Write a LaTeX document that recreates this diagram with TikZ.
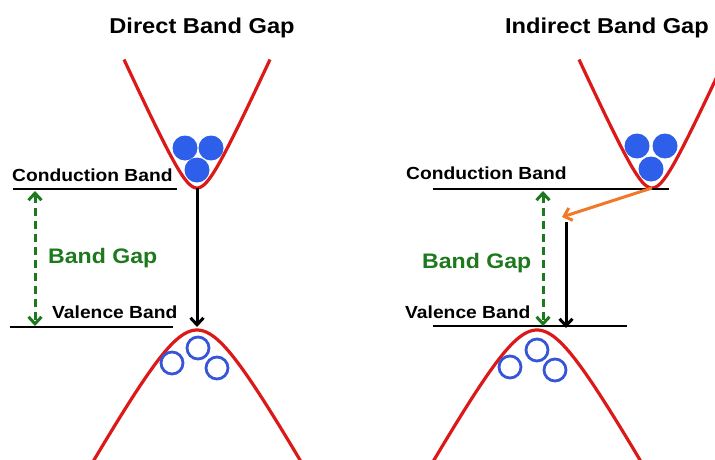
\documentclass[tikz,border=0pt]{standalone}
\usepackage{fontspec}
\setmainfont{Liberation Sans}[FakeStretch=1.1]
\usetikzlibrary{arrows.meta}
\definecolor{bandred}{RGB}{220,25,25}
\definecolor{eblue}{RGB}{45,95,235}
\definecolor{hblue}{RGB}{55,85,215}
\definecolor{gapgreen}{RGB}{30,120,30}
\definecolor{phonon}{RGB}{240,120,40}
\begin{document}
\begin{tikzpicture}[
    x=1pt, y=-1pt,
    title/.style={anchor=base, inner sep=0pt, font=\fontsize{21.5}{24}\selectfont\bfseries},
    label/.style={anchor=base west, inner sep=0pt, font=\fontsize{17.5}{20}\selectfont\bfseries},
    gaplabel/.style={anchor=base west, inner sep=0pt, text=gapgreen, font=\fontsize{21}{24}\selectfont\bfseries},
    band/.style={bandred, line width=3.2pt},
    level/.style={black, line width=1.8pt},
    electron/.style={fill=eblue},
    hole/.style={draw=hblue, line width=2.8pt},
    trans/.style={-{Straight Barb[length=7pt,width=13pt]}, line width=3pt},
    gap/.style={{Straight Barb[length=7pt,width=13pt]}-{Straight Barb[length=7pt,width=13pt]}, gapgreen, line width=3pt, dash pattern=on 8pt off 5pt},
]
    \clip (0,0) rectangle (715,460);

    % Titles
    \node[title] (tdirect) at (202,34) {Direct Band Gap};
    \node[title] (tindirect) at (607,34) {Indirect Band Gap};

    % Direct gap: bands
    \coordinate (cbvL) at (197,188);
    \coordinate (vbvL) at (197,330);
    \draw[band] plot[domain=-73:73, samples=80] ({197+\x},{188-35*(sqrt(1+(\x/16)^2)-1)});
    \draw[band] plot[domain=-110:110, samples=80] ({197+\x},{330+64*(sqrt(1+(\x/36)^2)-1)});

    % Direct gap: carriers
    \fill[electron] (185,148) circle (12.5);
    \fill[electron] (211,148) circle (12.5);
    \fill[electron] (197,170) circle (12.5);
    \draw[hole] (172,363) circle (11);
    \draw[hole] (198,348) circle (11);
    \draw[hole] (217,368) circle (11);

    % Direct gap: levels
    \coordinate (cbaL) at (13,189);
    \coordinate (cbbL) at (177,189);
    \coordinate (vbaL) at (10,327);
    \coordinate (vbbL) at (173,327);
    \draw[level] (cbaL) -- (cbbL);
    \draw[level] (vbaL) -- (vbbL);
    \node[label] (condL) at (12,181) {Conduction Band};
    \node[label] (valL) at (52,318) {Valence Band};
    \node[gaplabel] (gapL) at (48,263) {Band Gap};

    % Direct gap: arrows
    \coordinate (gtopL) at (35,191);
    \coordinate (gbotL) at (35,326);
    \draw[gap] (gtopL) -- (gbotL);
    \draw[trans, shorten >=3pt] (cbvL) -- (vbvL);

    % Indirect gap: bands
    \coordinate (cbvR) at (652,188);
    \coordinate (vbvR) at (537,330);
    \draw[band] plot[domain=-73:73, samples=80] ({652+\x},{188-35*(sqrt(1+(\x/16)^2)-1)});
    \draw[band] plot[domain=-110:110, samples=80] ({537+\x},{330+64*(sqrt(1+(\x/36)^2)-1)});

    % Indirect gap: carriers
    \fill[electron] (637,146) circle (12.5);
    \fill[electron] (665,146) circle (12.5);
    \fill[electron] (651,169) circle (12.5);
    \draw[hole] (510,367) circle (11);
    \draw[hole] (537,350) circle (11);
    \draw[hole] (555,370) circle (11);

    % Indirect gap: levels
    \coordinate (cbaR) at (433,189);
    \coordinate (cbbR) at (669,189);
    \coordinate (vbaR) at (433,326);
    \coordinate (vbbR) at (627,326);
    \draw[level] (cbaR) -- (cbbR);
    \draw[level] (vbaR) -- (vbbR);
    \node[label] (condR) at (406,179) {Conduction Band};
    \node[label] (valR) at (405,318) {Valence Band};
    \node[gaplabel] (gapR) at (422,268) {Band Gap};

    % Indirect gap: arrows
    \coordinate (gtopR) at (543,191);
    \coordinate (gbotR) at (543,326);
    \coordinate (kinkR) at (562,217);
    \coordinate (dtopR) at (566,222);
    \coordinate (dbotR) at (566,328);
    \draw[gap] (gtopR) -- (gbotR);
    \draw[trans, phonon] (cbvR) -- (kinkR);
    \draw[trans] (dtopR) -- (dbotR);
\end{tikzpicture}
\end{document}
